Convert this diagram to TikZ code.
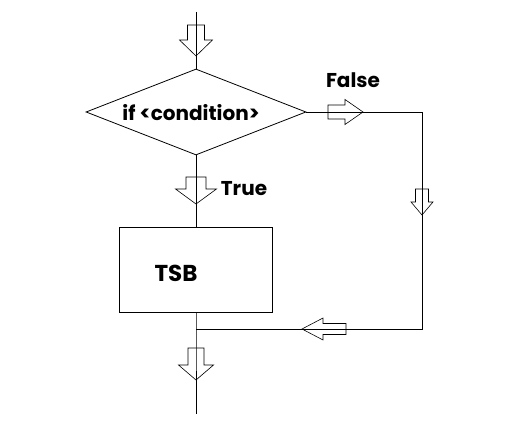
\documentclass[tikz,border=0pt]{standalone}
\usepackage{fontspec}
\setmainfont{Poppins}
\usepackage{tikz}
\usetikzlibrary{shapes.geometric,positioning}

% hollow block arrow: tip, direction, length, head length, stem width, head width
\newcommand{\hollowarrow}[6]{%
  \draw[blockarr,shift={#1},rotate=#2] (0,0) -- (-#4,#6/2) -- (-#4,#5/2) -- (-#3,#5/2)
    -- (-#3,-#5/2) -- (-#4,-#5/2) -- (-#4,-#6/2) -- cycle;}

\begin{document}
\begin{tikzpicture}[x=1pt,y=1pt,line width=0.8pt,
  lbl/.style={font=\fontsize{20}{22}\selectfont\bfseries},
  blockarr/.style={line width=0.6pt},
  cond/.style={diamond,draw,aspect=2.56,minimum width=220pt,minimum height=86pt,inner sep=0pt},
  stmt/.style={rectangle,draw,minimum width=153pt,minimum height=85pt}]
\useasboundingbox (0,0) rectangle (511,433);

% nodes
\node[cond] (test) at (196,321) {};
\node[lbl] (testtxt) at (191,320) {if <condition>};
\node[stmt] (tsb) at (196,163.5) {};
\node[lbl,font=\fontsize{23}{25}\selectfont\bfseries] (tsbtxt) at (176,160) {TSB};
\node[lbl] (false) at (353,353) {False};
\node[lbl] (true) at (244,244) {True};

\coordinate (start) at (196,421);
\coordinate (fcorner) at (422,321);
\coordinate (rcorner) at (422,104);
\coordinate (join) at (196,104);
\coordinate (stop) at (196,19);

% connectors
\draw (start) -- (test.north);
\draw (test.south) -- (tsb.north);
\draw (test.east) -- (fcorner) -- (rcorner) -- (join);
\draw (tsb.south) -- (join) -- (stop);

% flow arrows
\hollowarrow{(196,377)}{-90}{31}{16}{17}{33}
\hollowarrow{(196,229)}{-90}{27}{15}{20}{41}
\hollowarrow{(363,321)}{0}{35}{18}{14}{25}
\hollowarrow{(422,218)}{-90}{26}{13}{13}{22}
\hollowarrow{(302,104)}{180}{44}{21}{11}{22}
\hollowarrow{(196,53)}{-90}{32}{15}{16}{35}
\end{tikzpicture}
\end{document}
